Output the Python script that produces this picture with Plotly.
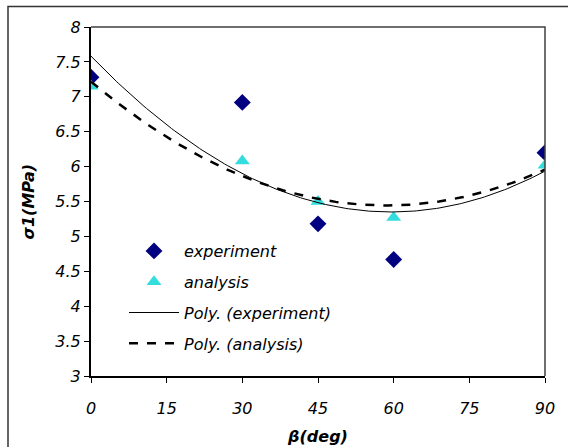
import numpy as np
import plotly.graph_objects as go

beta = [0, 30, 45, 60, 90]
experiment = [7.28, 6.92, 5.18, 4.67, 6.2]
analysis = [7.15, 6.08, 5.5, 5.27, 6.02]
x_ticks = [0, 15, 30, 45, 60, 75, 90]
y_ticks = [3, 3.5, 4, 4.5, 5, 5.5, 6, 6.5, 7, 7.5, 8]

xs = np.linspace(0, 90, 181)
p_exp = np.polyval(np.polyfit(beta, experiment, 2), xs)
p_ana = np.polyval(np.polyfit(beta, analysis, 2), xs)

W, H = 568, 447
L, R, T, B = 91, 23, 27, 71
pw, ph = W - L - R, H - T - B

def px(x):
    return (x - L) / pw

def py(y):
    return (H - B - y) / ph

font = "DejaVu Sans, Liberation Sans, Arial, sans-serif"

fig = go.Figure()
fig.add_trace(go.Scatter(x=beta, y=experiment, mode="markers", name="experiment",
                         legendgroup="a",
                         marker=dict(symbol="diamond", size=13, color="#000080")))
fig.add_trace(go.Scatter(x=beta, y=analysis, mode="markers", name="analysis",
                         legendgroup="b",
                         marker=dict(symbol="triangle-up", size=13, color="#33DDDD")))
fig.add_trace(go.Scatter(x=xs, y=p_exp, mode="lines", name="Poly. (experiment)",
                         legendgroup="c",
                         line=dict(color="black", width=1)))
fig.add_trace(go.Scatter(x=xs, y=p_ana, mode="lines", name="Poly. (analysis)",
                         legendgroup="d",
                         line=dict(color="black", width=2.5, dash="dash")))

fig.update_layout(
    template="none",
    width=W, height=H,
    margin=dict(l=L, r=R, t=T, b=B, autoexpand=False),
    paper_bgcolor="white", plot_bgcolor="white",
    font=dict(family=font, size=16, color="black"),
    showlegend=True,
    legend=dict(x=px(124), y=py(234), xanchor="left", yanchor="top",
                bgcolor="rgba(0,0,0,0)", tracegroupgap=7, itemwidth=50,
                font=dict(family=font, size=16, style="italic")),
    xaxis=dict(range=[0, 90], tickvals=x_ticks, ticks="outside", ticklen=5,
               tickcolor="black", showline=True, linecolor="black", linewidth=2,
               showgrid=False, zeroline=False, automargin=False,
               tickfont=dict(family=font, size=16, style="italic"),
               ticklabelstandoff=12,
               title=dict(text="<b><i>β(deg)</i></b>", font=dict(family=font, size=16),
                          standoff=14)),
    yaxis=dict(range=[3, 8], tickvals=y_ticks, ticks="outside", ticklen=5,
               tickcolor="black", showline=True, linecolor="black", linewidth=2,
               showgrid=False, zeroline=False, automargin=False,
               tickfont=dict(family=font, size=16, style="italic"),
               ticksuffix="\u2002"),
    annotations=[
        dict(text="<b><i>σ1(MPa)</i></b>", xref="paper", yref="paper",
             x=px(28), y=0.5, xanchor="center", yanchor="middle", textangle=-90,
             showarrow=False, font=dict(family=font, size=16, color="black")),
    ],
    shapes=[
        dict(type="path", xref="paper", yref="paper", path="M 0,1 L 1,1 L 1,0",
             line=dict(color="#404040", width=1.5), layer="above"),
        dict(type="path", xref="paper", yref="paper",
             path=f"M {px(8)},{py(470)} L {px(8)},{py(6.5)} L {px(620)},{py(6.5)}",
             line=dict(color="#333333", width=1.5), layer="above"),
    ],
)

fig.write_html("out.html", config={"displayModeBar": False},
               post_script="document.body.style.margin='0px';")
